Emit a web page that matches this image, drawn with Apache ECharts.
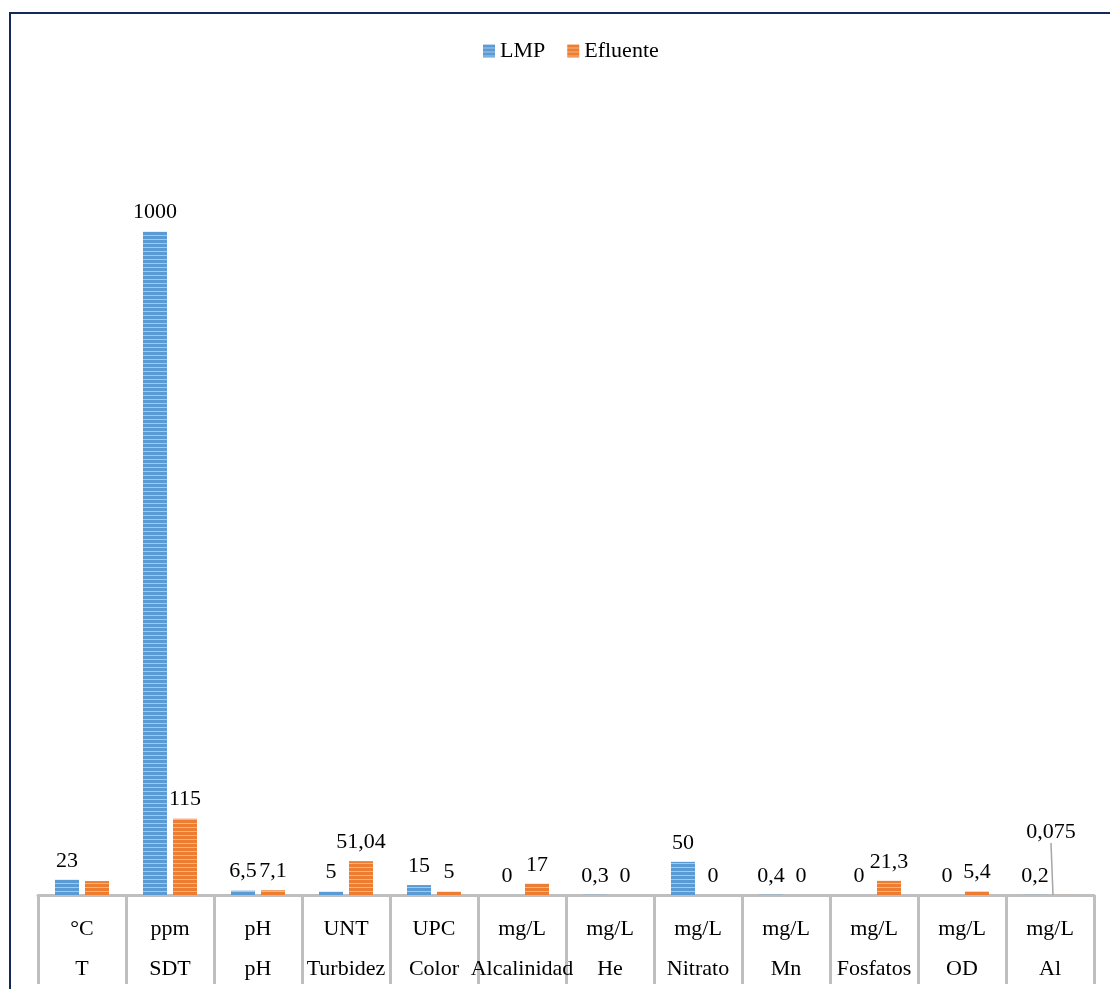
<!DOCTYPE html>
<html>
<head>
<meta charset="utf-8">
<script src="https://cdn.jsdelivr.net/npm/echarts@6/dist/echarts.min.js"></script>
<style>
  html, body { margin: 0; padding: 0; background: #fff; }
  #chart { width: 1110px; height: 989px; }
</style>
</head>
<body>
<div id="chart"></div>
<script>
const units = ["°C", "ppm", "pH", "UNT", "UPC", "mg/L", "mg/L", "mg/L", "mg/L", "mg/L", "mg/L", "mg/L"];
const names = ["T", "SDT", "pH", "Turbidez", "Color", "Alcalinidad", "He", "Nitrato", "Mn", "Fosfatos", "OD", "Al"];
const lmp = [23, 1000, 6.5, 5, 15, 0, 0.3, 50, 0.4, 0, 0, 0.2];
const efluente = [21, 115, 7.1, 51.04, 5, 17, 0, 0, 0, 21.3, 5.4, 0.075];

const font = "'Liberation Serif', 'Times New Roman', serif";
const fmt = (v) => String(v).replace(".", ",");

// striped fill like the original bars
function stripes(base, light) {
  const c = document.createElement("canvas");
  c.width = 4;
  c.height = 4;
  const ctx = c.getContext("2d");
  ctx.fillStyle = base;
  ctx.fillRect(0, 0, 4, 4);
  ctx.fillStyle = light;
  ctx.fillRect(0, 3, 4, 1);
  return { image: c, repeat: "repeat" };
}

const blue = stripes("#5b9bd5", "#a8c8ea");
const orange = stripes("#ed7d31", "#f6b48a");

const label = {
  show: true,
  position: "top",
  distance: 8,
  color: "#000",
  fontFamily: font,
  fontSize: 22,
  formatter: (p) => fmt(p.value),
};

const effData = efluente.map((v, i) => {
  if (i === 0) return { value: v, label: { show: false } };
  if (i === 11) return { value: v, labelLine: { show: true, lineStyle: { color: "#a6a6a6", width: 1.5 } } };
  return v;
});

const chart = echarts.init(document.getElementById("chart"));
chart.setOption({
  animation: false,
  backgroundColor: "#fff",
  graphic: [
    {
      type: "rect",
      shape: { x: 10, y: 13, width: 1120, height: 1000 },
      style: { fill: "none", stroke: "#13295e", lineWidth: 2 },
      z: -1,
    },
  ],
  legend: {
    top: 35,
    left: 478,
    icon: "rect",
    itemWidth: 12,
    itemHeight: 13,
    itemGap: 22,
    textStyle: { fontFamily: font, fontSize: 22, color: "#000" },
    data: ["LMP", "Efluente"],
  },
  grid: { left: 38, right: 16, top: 99, bottom: 93 },
  xAxis: {
    type: "category",
    data: names,
    axisLine: { lineStyle: { color: "#bfbfbf", width: 3 } },
    axisTick: { show: true, length: 89, lineStyle: { color: "#bfbfbf", width: 3 } },
    axisLabel: {
      interval: 0,
      margin: 14,
      color: "#000",
      fontFamily: font,
      fontSize: 22,
      lineHeight: 40,
      formatter: (v, i) => units[i] + "\n" + v,
    },
  },
  yAxis: { type: "value", min: 0, max: 1200, show: false, splitLine: { show: false } },
  series: [
    {
      name: "LMP",
      type: "bar",
      barWidth: 24,
      barGap: "25%",
      itemStyle: { color: blue },
      label: label,
      data: lmp,
    },
    {
      name: "Efluente",
      type: "bar",
      barWidth: 24,
      itemStyle: { color: orange },
      label: label,
      labelLayout: (p) => (p.dataIndex === 11 ? { dx: -14, dy: -44 } : {}),
      data: effData,
    },
  ],
});
</script>
</body>
</html>
